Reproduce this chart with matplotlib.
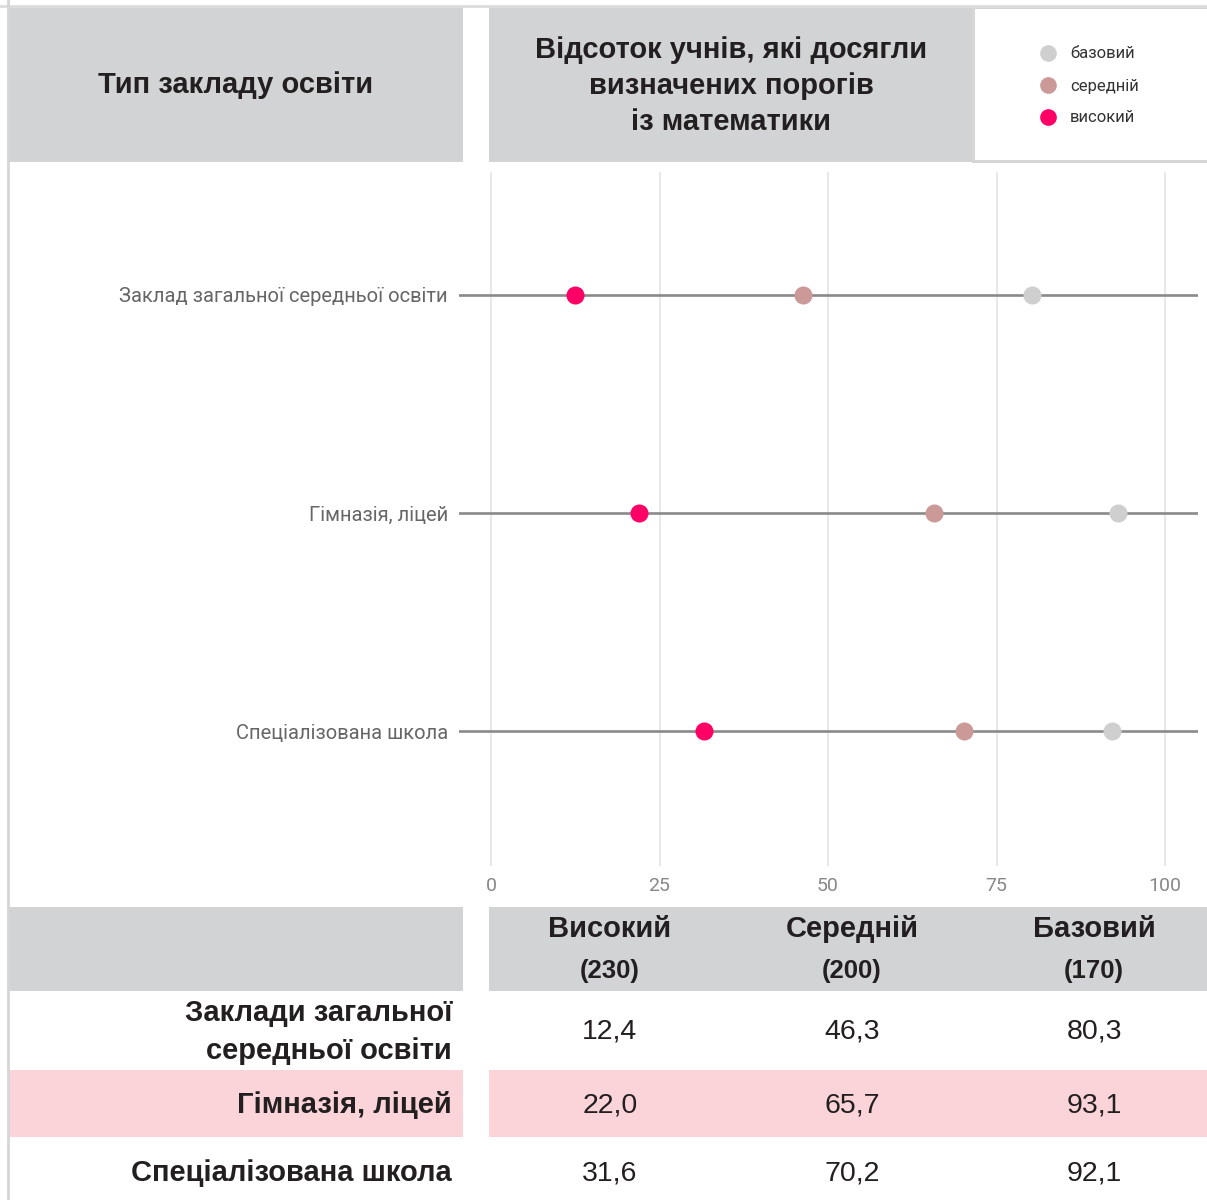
import matplotlib
matplotlib.use("Agg")
import matplotlib.pyplot as plt
from matplotlib.patches import Rectangle

# дані: відсоток учнів, що досягли порогів із математики
types_axis = ["Заклад загальної середньої освіти", "Гімназія, ліцей", "Спеціалізована школа"]
types_table = ["Заклади загальної\nсередньої освіти", "Гімназія, ліцей", "Спеціалізована школа"]
levels = ["Високий", "Середній", "Базовий"]
thresholds = [230, 200, 170]
high = [12.4, 22.0, 31.6]
mid = [46.3, 65.7, 70.2]
base = [80.3, 93.1, 92.1]
ticks = [0, 25, 50, 75, 100]

c_base = "#cfcfcf"
c_mid = "#cc9999"
c_high = "#ff0066"
c_head = "#d1d3d4"
c_pink = "#fad4d8"
c_text = "#231f20"

W, H = 1207, 1200
fig = plt.figure(figsize=(W / 100, H / 100), dpi=100)

# фонове полотно у піксельних координатах
bg = fig.add_axes([0, 0, 1, 1])
bg.set_xlim(0, W)
bg.set_ylim(H, 0)
bg.axis("off")

def box(x0, y0, x1, y1, color, **kw):
    bg.add_patch(Rectangle((x0, y0), x1 - x0, y1 - y0, facecolor=color, edgecolor="none", **kw))

# шапка
box(8, 7, 463, 162, c_head)
box(489, 7, 972, 162, c_head)
bg.add_patch(Rectangle((973, 7), 240, 154, facecolor="white", edgecolor="#d6d6d6", lw=2.2))
bg.plot([0, W], [6, 6], color="#dcdcdc", lw=2)
bg.plot([8, 8], [0, H], color="#d6d6d6", lw=2)

hfont = dict(family="Liberation Sans", fontweight="bold", color=c_text)
bg.text(236, 85, "Тип закладу освіти", ha="center", va="center", fontsize=21, **hfont)
bg.text(731, 86, "Відсоток учнів, які досягли\nвизначених порогів\nіз математики",
        ha="center", va="center", fontsize=21, linespacing=1.35, **hfont)

# легенда
for i, (lab, col) in enumerate([("базовий", c_base), ("середній", c_mid), ("високий", c_high)]):
    y = 53 + 32 * i
    bg.plot(1048, y, "o", color=col, markersize=12, markeredgewidth=0)
    bg.text(1070, y + 1, lab, ha="left", va="center", fontsize=12, family="Roboto", color="#333333")

# таблиця
box(8, 907, 463, 991, c_head)
box(489, 907, W, 991, c_head)
box(8, 1070, 463, 1137, c_pink)
box(489, 1070, W, 1137, c_pink)

col_x = [610, 852, 1094]
row_y = [1032, 1105, 1173]
for cx, lev, thr in zip(col_x, levels, thresholds):
    bg.text(cx, 929, lev, ha="center", va="center", fontsize=21, **hfont)
    bg.text(cx, 971, f"({thr})", ha="center", va="center", fontsize=18.5, **hfont)
for ry, name, vals in zip(row_y, types_table, zip(high, mid, base)):
    bg.text(452, ry, name, ha="right", va="center", fontsize=21, linespacing=1.43, **hfont)
    for cx, v in zip(col_x, vals):
        bg.text(cx, ry, f"{v:.1f}".replace(".", ","), ha="center", va="center",
                fontsize=20.5, family="Liberation Sans", color=c_text)

# точкова діаграма
px_per_unit = (1165 - 491) / 100
x_left = 0 - (491 - 459) / px_per_unit
x_right = 100 + (1198 - 1165) / px_per_unit
y_top_px, y_bot_px = 172, 866
row_px = 218
ax = fig.add_axes([459 / W, 1 - y_bot_px / H, (1198 - 459) / W, (y_bot_px - y_top_px) / H])
ax.set_xlim(x_left, x_right)
ax.set_ylim(2 + (y_bot_px - 731) / row_px, 0 - (295 - y_top_px) / row_px)
ax.patch.set_alpha(0)
for s in ax.spines.values():
    s.set_visible(False)

for t in ticks:
    ax.axvline(t, color="#e8e8e8", lw=1.4, zorder=0)

ypos = list(range(len(types_axis)))
for y in ypos:
    ax.axhline(y, color="#8a8a8a", lw=1.9, zorder=1)
ax.plot(base, ypos, "o", color=c_base, markersize=13, markeredgewidth=0, linestyle="none", zorder=3)
ax.plot(mid, ypos, "o", color=c_mid, markersize=13, markeredgewidth=0, linestyle="none", zorder=3)
ax.plot(high, ypos, "o", color=c_high, markersize=13, markeredgewidth=0, linestyle="none", zorder=3)

ax.set_xticks(ticks)
ax.set_xticklabels([str(t) for t in ticks], family="Roboto", fontsize=14, color="#888888")
ax.set_yticks(ypos)
ax.set_yticklabels(types_axis, family="Roboto", fontsize=14.5, color="#666666")
ax.tick_params(axis="x", length=0, pad=8)
ax.tick_params(axis="y", length=0, pad=8)

fig.savefig("out.png", dpi=100)
